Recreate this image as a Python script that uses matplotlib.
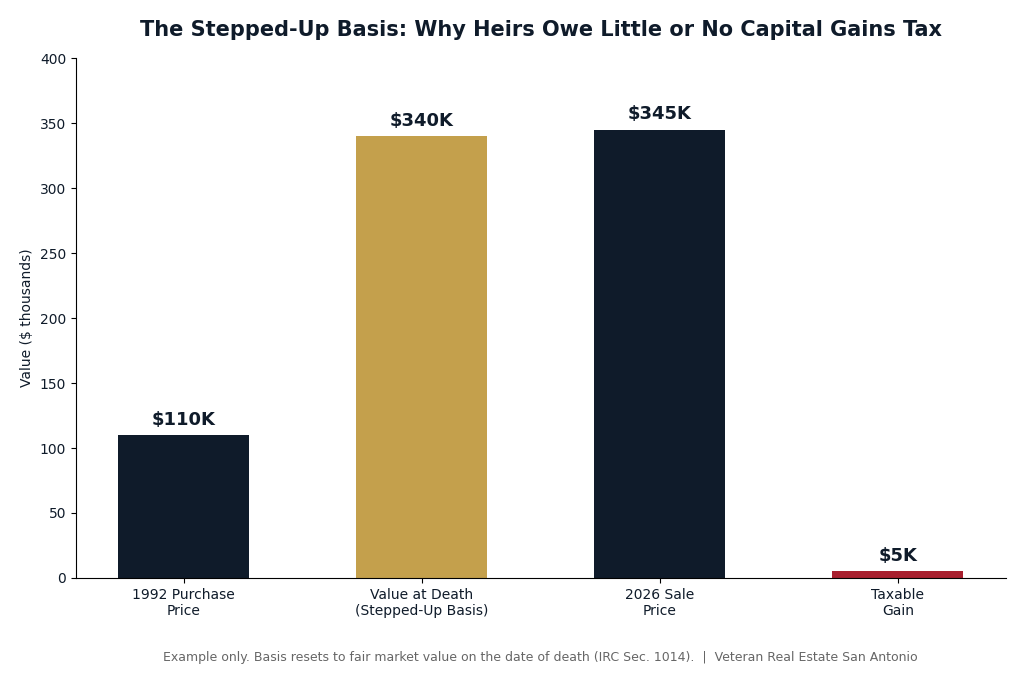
import matplotlib
matplotlib.use("Agg")
import matplotlib.pyplot as plt

categories = ["1992 Purchase\nPrice", "Value at Death\n(Stepped-Up Basis)", "2026 Sale\nPrice", "Taxable\nGain"]
values = [110, 340, 345, 5]
value_labels = ["$110K", "$340K", "$345K", "$5K"]
colors = ["#0f1b2a", "#c4a04c", "#0f1b2a", "#a81f2e"]

navy = "#0f1b2a"

fig = plt.figure(figsize=(10.25, 6.84), dpi=100)
ax = fig.add_axes([0.0741, 0.155, 0.907, 0.76])

bars = ax.bar(range(len(values)), values, width=0.55, color=colors)
for b, lab in zip(bars, value_labels):
    ax.text(b.get_x() + b.get_width() / 2, b.get_height() + 5, lab,
            ha="center", va="bottom", fontsize=13, fontweight="bold", color=navy)

ax.set_xticks(range(len(values)))
ax.set_xticklabels(categories, fontsize=10, color=navy)
ax.set_ylim(0, 400)
ax.set_ylabel("Value ($ thousands)", fontsize=10, color=navy)
ax.tick_params(axis="y", labelsize=10, labelcolor=navy)
ax.spines["top"].set_visible(False)
ax.spines["right"].set_visible(False)

fig.suptitle("The Stepped-Up Basis: Why Heirs Owe Little or No Capital Gains Tax",
             x=0.528, y=0.971, fontsize=15, fontweight="bold", color=navy)
fig.text(0.527, 0.034, "Example only. Basis resets to fair market value on the date of death (IRC Sec. 1014).  |  Veteran Real Estate San Antonio",
         ha="center", fontsize=9, color="#666666")

fig.savefig("out.png", dpi=100)
